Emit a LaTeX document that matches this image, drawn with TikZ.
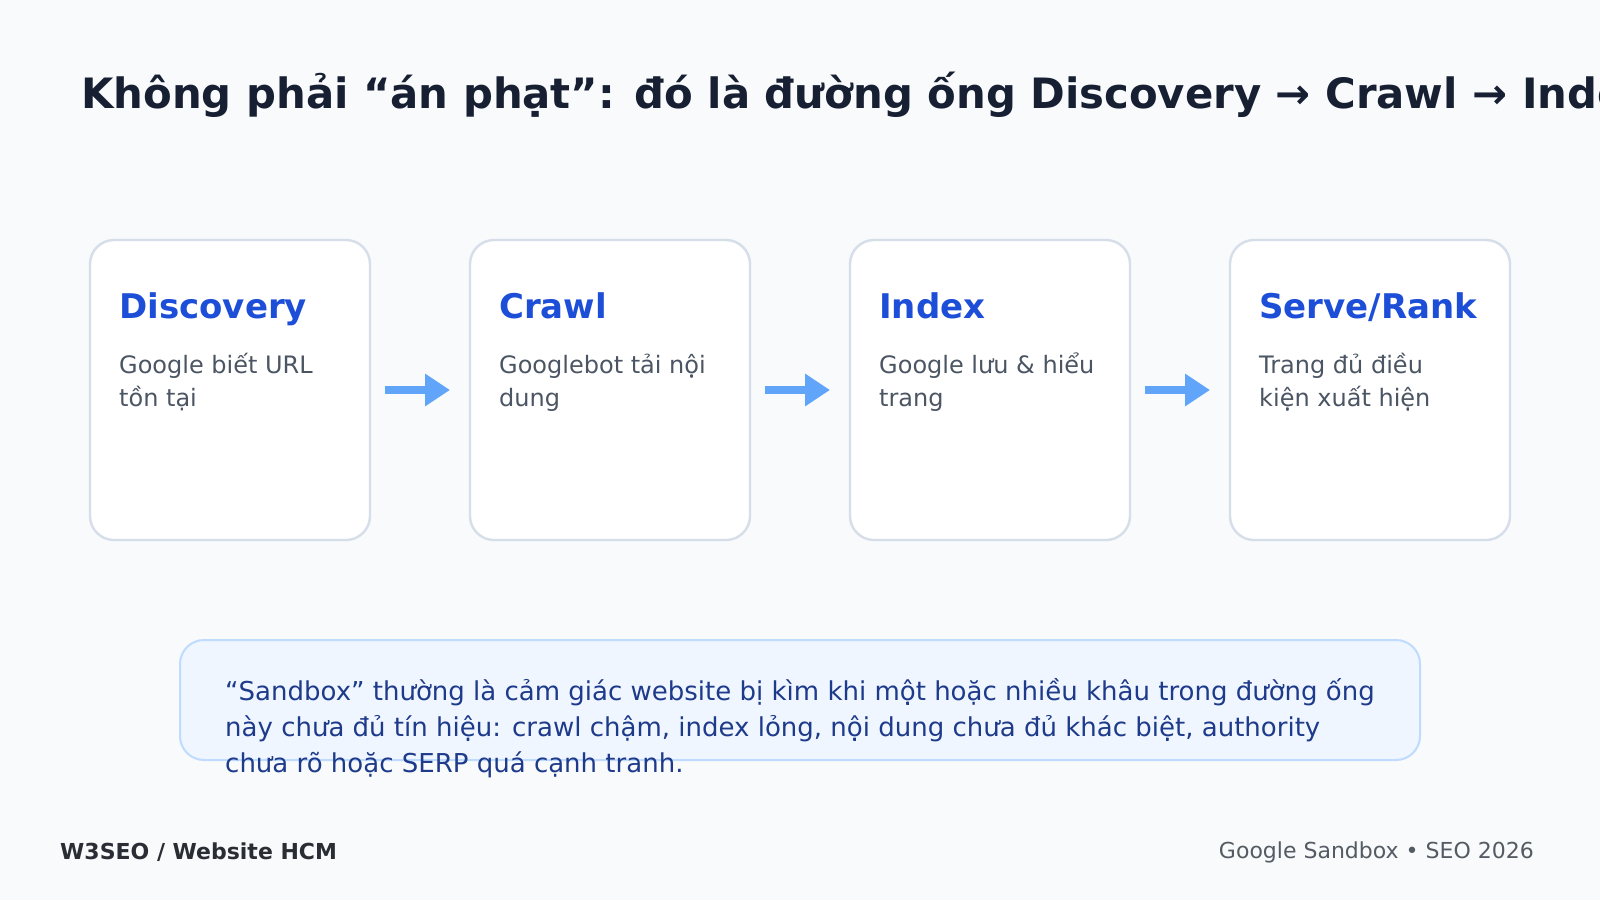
\documentclass[tikz,border=0pt]{standalone}
\usepackage{fontspec}
\setmainfont{DejaVu Sans}
\usetikzlibrary{arrows.meta,positioning}
\definecolor{pagebg}{HTML}{F8FAFC}
\definecolor{titleink}{HTML}{172033}
\definecolor{headblue}{HTML}{1D4ED8}
\definecolor{bodygray}{HTML}{4B5563}
\definecolor{stageline}{HTML}{D6DEE9}
\definecolor{flowblue}{HTML}{60A5FA}
\definecolor{notefill}{HTML}{EFF6FF}
\definecolor{noteline}{HTML}{BFDBFE}
\definecolor{noteink}{HTML}{1E3A8A}
\definecolor{brandink}{HTML}{2A2D33}
\definecolor{topicink}{HTML}{555B63}
\tikzset{
  stage/.style={draw=stageline,line width=2.4pt,fill=white,rounded corners=24pt,
    minimum width=280pt,minimum height=300pt,inner sep=0pt,outer sep=0pt},
  stagehead/.style={font=\bfseries\fontsize{34}{40}\selectfont,text=headblue,
    anchor=base west,inner sep=0pt},
  stagetext/.style={font=\fontsize{24}{33.6}\selectfont,text=bodygray,
    anchor=base west,inner sep=0pt},
  flow/.style={draw=flowblue,line width=8pt,-{Triangle[length=25pt,width=31pt]}},
  note/.style={draw=noteline,line width=2pt,fill=notefill,rounded corners=24pt,
    minimum width=1240pt,minimum height=120pt,inner sep=0pt,outer sep=0pt},
  notetext/.style={font=\fontsize{26}{36.4}\selectfont,text=noteink,
    anchor=base west,inner sep=0pt},
}
\begin{document}
\begin{tikzpicture}[x=1pt,y=-1pt]
\fill[pagebg] (0,0) rectangle (1600,900);
\useasboundingbox (0,0) rectangle (1600,900);
% title, cut at the right edge
\begin{scope}
\clip (0,0) rectangle (1600,900);
\node[font=\bfseries\fontsize{41.8}{50}\selectfont,text=titleink,anchor=base west,inner sep=0pt]
  (title) at (81,108) {Không phải “án phạt”: đó là đường ống Discovery → Crawl → Index};
\end{scope}
% pipeline
\node[stage] (disc) at (230,390) {};
\node[stage,right=100pt of disc] (crawl) {};
\node[stage,right=100pt of crawl] (index) {};
\node[stage,right=100pt of index] (serve) {};
\node[stagehead] (disc-h) at ([xshift=29pt,yshift=-78pt]disc.north west) {Discovery};
\node[stagetext] (disc-b) at ([xshift=29pt,yshift=-133pt]disc.north west)
  {\parbox[t]{240pt}{Google biết URL\\tồn tại}};
\node[stagehead] (crawl-h) at ([xshift=29pt,yshift=-78pt]crawl.north west) {Crawl};
\node[stagetext] (crawl-b) at ([xshift=29pt,yshift=-133pt]crawl.north west)
  {\parbox[t]{240pt}{Googlebot tải nội\\dung}};
\node[stagehead] (index-h) at ([xshift=29pt,yshift=-78pt]index.north west) {Index};
\node[stagetext] (index-b) at ([xshift=29pt,yshift=-133pt]index.north west)
  {\parbox[t]{240pt}{Google lưu \& hiểu\\trang}};
\node[stagehead] (serve-h) at ([xshift=29pt,yshift=-78pt]serve.north west) {Serve/Rank};
\node[stagetext] (serve-b) at ([xshift=29pt,yshift=-133pt]serve.north west)
  {\parbox[t]{240pt}{Trang đủ điều\\kiện xuất hiện}};
\draw[flow] ([xshift=15pt]disc.east) -- ([xshift=-20pt]crawl.west);
\draw[flow] ([xshift=15pt]crawl.east) -- ([xshift=-20pt]index.west);
\draw[flow] ([xshift=15pt]index.east) -- ([xshift=-20pt]serve.west);
% callout
\node[note] (note) at (800,700) {};
\node[notetext] (note-t) at ([xshift=45pt,yshift=-60pt]note.north west)
  {\parbox[t]{1300pt}{“Sandbox” thường là cảm giác website bị kìm khi một hoặc nhiều khâu trong đường ống\\này chưa đủ tín hiệu: crawl chậm, index lỏng, nội dung chưa đủ khác biệt, authority\\chưa rõ hoặc SERP quá cạnh tranh.}};
% footer
\node[font=\bfseries\fontsize{22}{26}\selectfont,text=brandink,anchor=base west,inner sep=0pt]
  (brand) at (60,859) {W3SEO / Website HCM};
\node[font=\fontsize{22}{26}\selectfont,text=topicink,anchor=base east,inner sep=0pt]
  (topic) at (1534,858) {Google Sandbox • SEO 2026};
\end{tikzpicture}
\end{document}
